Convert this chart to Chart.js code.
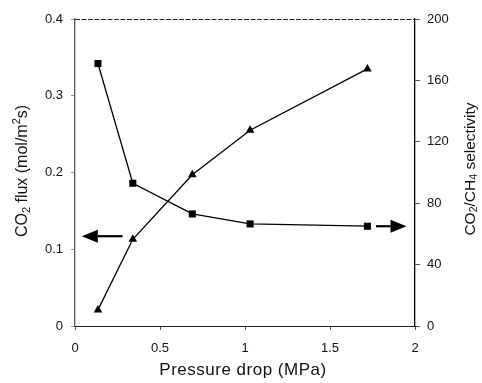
<!DOCTYPE html>
<html>
<head>
<meta charset="utf-8">
<script src="https://cdn.jsdelivr.net/npm/chart.js@4"></script>
<style>
  html, body { margin: 0; padding: 0; background: #fff; }
  #wrap { width: 482px; height: 383px; }
</style>
</head>
<body>
<div id="wrap"><canvas id="chart"></canvas></div>
<script>
// pressure drop (MPa), shared by both series
const pressureDrop = [0.135, 0.34, 0.69, 1.03, 1.72];
// CO2 flux, left axis (triangles)
const co2Flux = [0.021, 0.113, 0.197, 0.255, 0.335];
// CO2/CH4 selectivity, right axis (squares)
const selectivity = [171, 93, 73, 66.5, 65];

const xTicks = [0, 0.5, 1, 1.5, 2];
const fluxTicks = [0, 0.1, 0.2, 0.3, 0.4];
const selTicks = [0, 40, 80, 120, 160, 200];

// arrows that tell which axis a curve belongs to (data units)
const arrows = [
    { axis: 'yL', from: 0.28, to: 0.04, y: 0.117 },
    { axis: 'yR', from: 1.77, to: 1.95, y: 65 }
];

const fontFamily = '"Liberation Sans", Arial, sans-serif';

function toPoints(xs, ys) {
    return xs.map((x, i) => ({ x: x, y: ys[i] }));
}

// draws frame top line, arrows and the axis titles
const decorPlugin = {
    id: 'decor',
    afterDraw(chart) {
        const ctx = chart.ctx;
        const area = chart.chartArea;
        const xs = chart.scales.x;

        ctx.save();
        // dashed top edge
        ctx.strokeStyle = '#222';
        ctx.lineWidth = 1;
        ctx.setLineDash([5, 1.5]);
        ctx.beginPath();
        ctx.moveTo(area.left, area.top + 0.5);
        ctx.lineTo(area.right, area.top + 0.5);
        ctx.stroke();
        ctx.setLineDash([]);

        // arrows
        ctx.fillStyle = '#000';
        ctx.strokeStyle = '#000';
        arrows.forEach(a => {
            const y = chart.scales[a.axis].getPixelForValue(a.y);
            const x0 = xs.getPixelForValue(a.from);
            const x1 = xs.getPixelForValue(a.to);
            const dir = x1 > x0 ? 1 : -1;
            const headLen = 16;
            ctx.lineWidth = 2.2;
            ctx.beginPath();
            ctx.moveTo(x0, y);
            ctx.lineTo(x1 - dir * headLen, y);
            ctx.stroke();
            ctx.beginPath();
            ctx.moveTo(x1, y);
            ctx.lineTo(x1 - dir * headLen, y - 6.5);
            ctx.lineTo(x1 - dir * headLen, y + 6.5);
            ctx.closePath();
            ctx.fill();
        });

        // axis titles
        ctx.fillStyle = '#111';
        ctx.textBaseline = 'middle';

        // x title
        ctx.font = '17px ' + fontFamily;
        ctx.letterSpacing = '0.5px';
        ctx.textAlign = 'center';
        ctx.fillText('Pressure drop (MPa)', (area.left + area.right) / 2 - 2, 370);
        ctx.letterSpacing = '0px';

        // rotated titles with sub/superscripts
        drawRotated(ctx, 23, 171, [
            ['CO', 0], ['2', 1], [' flux (mol/m', 0], ['2', -1], ['s)', 0]
        ], 16);
        drawRotated(ctx, 471, 169, [
            ['CO', 0], ['2', 1], ['/CH', 0], ['4', 1], [' selectivity', 0]
        ], 15.5);
        ctx.restore();
    }
};

// pieces: [text, shift] with shift 1 = subscript, -1 = superscript
function drawRotated(ctx, cx, cy, pieces, size) {
    const small = size * 0.68;
    let total = 0;
    pieces.forEach(p => {
        ctx.font = (p[1] ? small : size) + 'px ' + fontFamily;
        total += ctx.measureText(p[0]).width;
    });
    ctx.save();
    ctx.translate(cx, cy);
    ctx.rotate(-Math.PI / 2);
    ctx.textAlign = 'left';
    let x = -total / 2;
    pieces.forEach(p => {
        ctx.font = (p[1] ? small : size) + 'px ' + fontFamily;
        const dy = p[1] === 1 ? size * 0.22 : (p[1] === -1 ? -size * 0.38 : 0);
        ctx.fillText(p[0], x, dy);
        x += ctx.measureText(p[0]).width;
    });
    ctx.restore();
}

const tickFont = { family: fontFamily, size: 13 };

new Chart(document.getElementById('chart'), {
    type: 'line',
    data: {
        datasets: [
            {
                label: 'CO2 flux',
                data: toPoints(pressureDrop, co2Flux),
                yAxisID: 'yL',
                borderColor: '#000',
                backgroundColor: '#000',
                borderWidth: 1.3,
                pointStyle: 'triangle',
                pointRadius: 5,
                pointBorderWidth: 0,
                tension: 0
            },
            {
                label: 'CO2/CH4 selectivity',
                data: toPoints(pressureDrop, selectivity),
                yAxisID: 'yR',
                borderColor: '#000',
                backgroundColor: '#000',
                borderWidth: 1.3,
                pointStyle: 'rect',
                pointRadius: 5,
                pointBorderWidth: 0,
                tension: 0
            }
        ]
    },
    options: {
        responsive: true,
        maintainAspectRatio: false,
        animation: false,
        layout: { padding: { top: 19, left: 0, right: 0, bottom: 0 } },
        plugins: {
            legend: { display: false },
            tooltip: { enabled: false }
        },
        scales: {
            x: {
                type: 'linear',
                min: 0,
                max: 2,
                afterBuildTicks: axis => { axis.ticks = xTicks.map(v => ({ value: v })); },
                afterFit: axis => { axis.height = 57; },
                grid: {
                    drawOnChartArea: false,
                    color: '#555',
                    tickLength: 4
                },
                border: { color: '#222', width: 1, dash: [5, 1.5] },
                ticks: {
                    font: tickFont,
                    color: '#111',
                    padding: 11,
                    maxRotation: 0,
                    callback: v => String(v)
                }
            },
            yL: {
                position: 'left',
                min: 0,
                max: 0.4,
                afterBuildTicks: axis => { axis.ticks = fluxTicks.map(v => ({ value: v })); },
                afterFit: axis => { axis.width = 75; },
                grid: {
                    drawOnChartArea: false,
                    color: '#999',
                    tickLength: 4
                },
                border: { color: '#555', width: 1.3 },
                ticks: {
                    font: tickFont,
                    color: '#111',
                    padding: 8,
                    callback: v => String(v)
                }
            },
            yR: {
                position: 'right',
                min: 0,
                max: 200,
                afterBuildTicks: axis => { axis.ticks = selTicks.map(v => ({ value: v })); },
                afterFit: axis => { axis.width = 67; },
                grid: {
                    drawOnChartArea: false,
                    color: '#555',
                    tickLength: 5
                },
                border: { color: '#000', width: 1.3 },
                ticks: {
                    font: tickFont,
                    color: '#111',
                    padding: 7,
                    callback: v => String(v)
                }
            }
        }
    },
    plugins: [decorPlugin]
});
</script>
</body>
</html>
